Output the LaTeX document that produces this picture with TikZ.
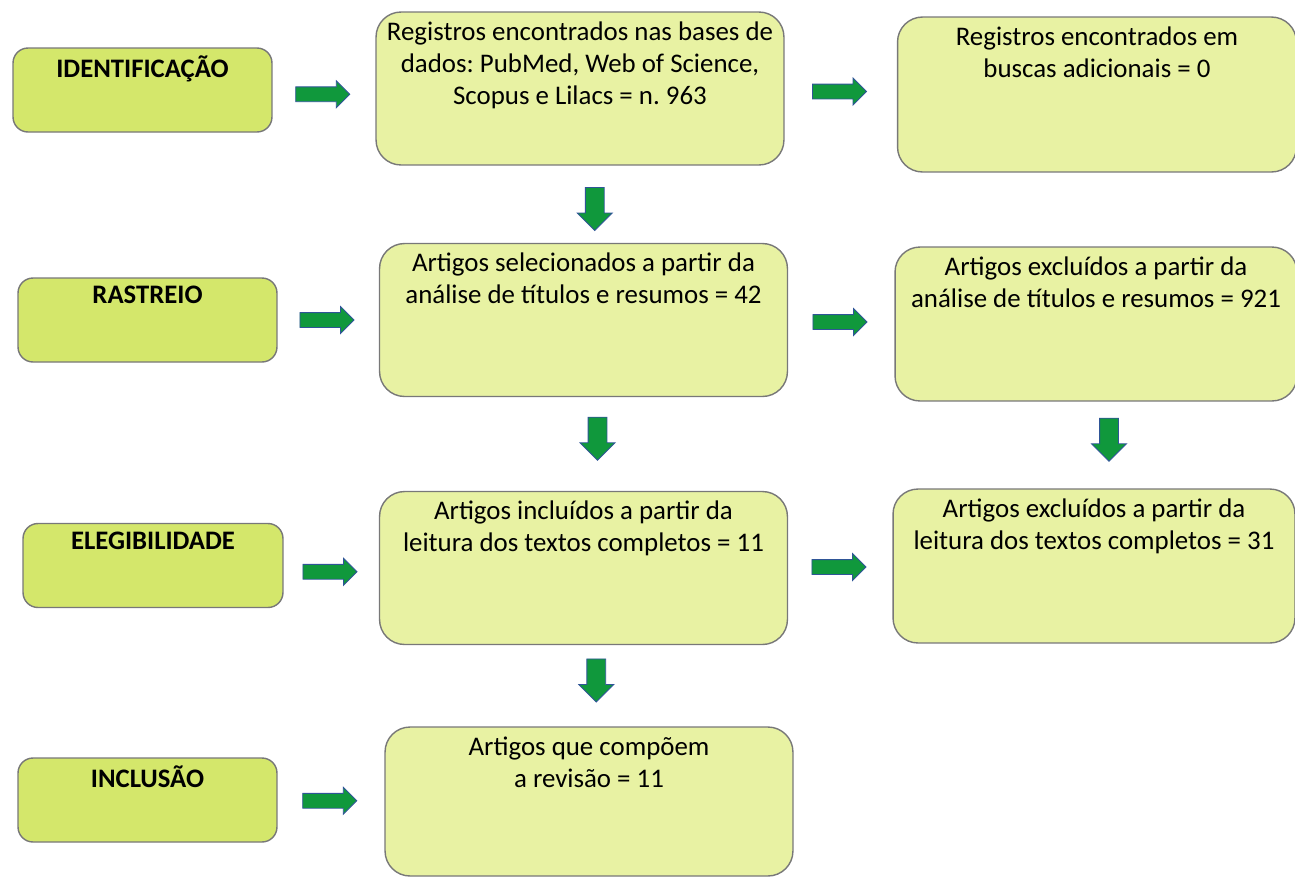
\documentclass[tikz,border=0pt]{standalone}
\usepackage{fontspec}
\setmainfont{Carlito}
\usetikzlibrary{shapes.arrows}

\definecolor{stagefill}{RGB}{212,231,107}
\definecolor{boxfill}{RGB}{232,242,163}
\definecolor{boxline}{RGB}{120,120,120}
\definecolor{arrowfill}{RGB}{16,152,60}
\definecolor{arrowline}{RGB}{47,85,151}

\tikzset{
  stage/.style = {rectangle, rounded corners = 0.3cm, draw = boxline, line width = 0.8pt,
    fill = stagefill, minimum width = 5.18cm, minimum height = 1.68cm},
  result/.style = {rectangle, rounded corners = 0.5cm, draw = boxline, line width = 0.8pt,
    fill = boxfill, minimum width = 8.16cm, minimum height = 3.06cm},
  sidebox/.style = {result, minimum width = 8.04cm, minimum height = 3.08cm},
  stagetext/.style = {anchor = north, inner sep = 0.17cm, font = \fontsize{15.2}{18.2}\selectfont\bfseries},
  boxtext/.style = {anchor = north, align = center, inner sep = 0.2cm, font = \fontsize{15.3}{18.2}\selectfont},
  harrow/.style = {single arrow, draw = arrowline, fill = arrowfill, line width = 0.5pt,
    inner xsep = 0pt, inner ysep = 0.14cm, minimum height = 1.08cm, minimum width = 0.52cm,
    single arrow head extend = 0.12cm},
  varrow/.style = {harrow, shape border rotate = 270, inner xsep = 0.18cm, inner ysep = 0pt,
    minimum height = 0.86cm, minimum width = 0.68cm, single arrow head extend = 0.16cm}
}

\begin{document}
\frenchspacing
\begin{tikzpicture}[x = 0.02cm, y = -0.02cm]
\useasboundingbox (0, 0) rectangle (1295, 877);
\clip (0, 0) rectangle (1295, 877);

% stages
\node[stage, label = {[stagetext]north:IDENTIFICAÇÃO}] (ident) at (142.5, 90) {};
\node[stage, label = {[stagetext]north:RASTREIO}] (rast) at (147.5, 320) {};
\node[stage, minimum width = 5.2cm, label = {[stagetext]north:ELEGIBILIDADE}] (eleg) at (153, 565.5) {};
\node[stage, label = {[stagetext]north:INCLUSÃO}] (incl) at (147.5, 800) {};

% main column
\node[result, minimum height = 3.06cm, label = {[boxtext]north:{Registros encontrados nas bases de\\dados: PubMed, Web of Science,\\Scopus e Lilacs = n. 963}}] (reg) at (580, 88.5) {};
\node[result, label = {[boxtext]north:{Artigos selecionados a partir da\\análise de títulos e resumos = 42}}] (sel) at (583.5, 320) {};
\node[result, label = {[boxtext]north:{Artigos incluídos a partir da\\leitura dos textos completos = 11}}] (inc) at (583.5, 568) {};
\node[result, minimum height = 2.98cm, label = {[boxtext]north:{Artigos que compõem\\a revisão = 11}}] (comp) at (589, 801.5) {};

% side column
\node[sidebox, minimum width = 7.98cm, minimum height = 3.1cm, label = {[boxtext]north:{Registros encontrados em\\buscas adicionais = 0}}] (add) at (1097, 94.5) {};
\node[sidebox, label = {[boxtext]north:{Artigos excluídos a partir da\\análise de títulos e resumos = 921}}] (excl) at (1096, 324) {};
\node[sidebox, label = {[boxtext]north:{Artigos excluídos a partir da\\leitura dos textos completos = 31}}] (exclb) at (1094, 566) {};

% arrows
\path (ident.east) -- (reg.west) node[harrow, midway, xshift = -0.1cm, yshift = -0.1cm] (h1) {};
\path (rast.east) -- (sel.west) node[harrow, midway, xshift = -0.1cm] (h2) {};
\path (eleg.east) -- (inc.west) node[harrow, midway, xshift = -0.1cm, yshift = -0.1cm] (h3) {};
\path (incl.east) -- (comp.west) node[harrow, midway, xshift = -0.1cm] (h4) {};
\path (reg.east) -- (add.west) node[harrow, midway, xshift = -0.1cm] (h5) {};
\path (sel.east) -- (excl.west) node[harrow, midway, xshift = -0.1cm] (h6) {};
\path (inc.east) -- (exclb.west) node[harrow, midway, xshift = -0.1cm] (h7) {};
\path (reg.south) -- (sel.north) node[varrow, midway, xshift = 0.26cm] (v1) {};
\path (sel.south) -- (inc.north) node[varrow, midway, xshift = 0.28cm, yshift = 0.2cm] (v2) {};
\path (inc.south) -- (comp.north) node[varrow, midway, xshift = 0.2cm, yshift = 0.2cm] (v3) {};
\path (excl.south) -- (exclb.north) node[varrow, midway, xshift = 0.28cm, yshift = 0.2cm] (v4) {};
\end{tikzpicture}
\end{document}
